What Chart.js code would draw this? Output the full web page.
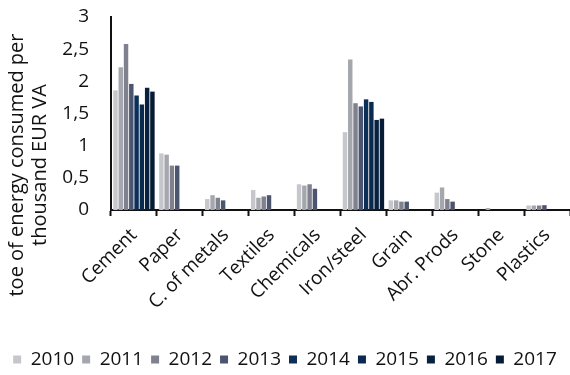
<!DOCTYPE html>
<html>
<head>
<meta charset="utf-8">
<script src="https://cdn.jsdelivr.net/npm/chart.js@4/dist/chart.umd.min.js"></script>
<style>
  html, body { margin: 0; padding: 0; background: #fff; }
  #wrap { width: 570px; height: 375px; }
</style>
</head>
<body>
<div id="wrap"><canvas id="energyChart"></canvas></div>
<script>
// categories and values
const sectors = ["Cement", "Paper", "C. of metals", "Textiles", "Chemicals", "Iron/steel", "Grain", "Abr. Prods", "Stone", "Plastics"];
const years = ["2010", "2011", "2012", "2013", "2014", "2015", "2016", "2017"];

const v2010 = [1.86, 0.88, 0.17, 0.31, 0.40, 1.21, 0.15, 0.27, null, 0.07];
const v2011 = [2.22, 0.86, 0.23, 0.19, 0.38, 2.34, 0.15, 0.35, 0.03, 0.07];
const v2012 = [2.58, 0.69, 0.19, 0.21, 0.40, 1.66, 0.13, 0.17, null, 0.07];
const v2013 = [1.96, 0.69, 0.15, 0.23, 0.33, 1.61, 0.13, 0.13, null, 0.075];
const v2014 = [1.78, null, null, null, null, 1.72, null, null, null, null];
const v2015 = [1.64, null, null, null, null, 1.68, null, null, null, null];
const v2016 = [1.90, null, null, null, null, 1.40, null, null, null, null];
const v2017 = [1.84, null, null, null, null, 1.42, null, null, null, null];

const yTicks = [0, 0.5, 1, 1.5, 2, 2.5, 3];
const yTitle = ["toe of energy consumed per", "thousand EUR VA"];

const colors = ["#c6c7cb", "#a5a7ae", "#7f828e", "#4b5570", "#0c2f58", "#0a294f", "#08213f", "#061b36"];
const series = [v2010, v2011, v2012, v2013, v2014, v2015, v2016, v2017];

const FONT = "'Open Sans', 'DejaVu Sans', sans-serif";

// y title drawn centred on the whole left side like the original
const yTitlePlugin = {
    id: "yTitle",
    afterDraw(chart) {
        const ctx = chart.ctx;
        ctx.save();
        ctx.fillStyle = "#111";
        ctx.font = "20px " + FONT;
        ctx.textAlign = "center";
        ctx.textBaseline = "middle";
        ctx.translate(0, 165);
        ctx.rotate(-Math.PI / 2);
        ctx.fillText(yTitle[0], 0, 17);
        ctx.fillText(yTitle[1], 0, 40);
        ctx.restore();
    }
};

let ctx = document.getElementById("energyChart").getContext("2d");

let chart = new Chart(ctx, {
    type: "bar",
    data: {
        labels: sectors,
        datasets: years.map((y, i) => ({
            label: y,
            data: series[i],
            backgroundColor: colors[i],
            borderWidth: 0,
            categoryPercentage: 0.92,
            barPercentage: 0.84
        }))
    },
    plugins: [yTitlePlugin],
    options: {
        responsive: true,
        maintainAspectRatio: false,
        animation: false,
        layout: { padding: { top: 17, left: 0, right: 0, bottom: -4 } },
        plugins: {
            legend: {
                position: "bottom",
                labels: {
                    font: { family: FONT, size: 19 },
                    color: "#111",
                    boxWidth: 8,
                    boxHeight: 8,
                    padding: 8
                }
            },
            tooltip: { enabled: false }
        },
        scales: {
            x: {
                grid: {
                    offset: true,
                    drawOnChartArea: false,
                    drawTicks: true,
                    tickLength: 6,
                    tickWidth: 2,
                    tickColor: "#111"
                },
                border: { display: true, color: "#111", width: 2 },
                ticks: {
                    font: { family: FONT, size: 19 },
                    color: "#111",
                    maxRotation: 45,
                    minRotation: 45,
                    autoSkip: false,
                    padding: 8
                },
                afterFit(scale) {
                    scale.height = 132;
                    scale.paddingLeft = 0;
                    scale.paddingRight = 0;
                }
            },
            y: {
                min: 0,
                max: 3,
                afterBuildTicks(scale) { scale.ticks = yTicks.map(v => ({ value: v })); },
                grid: { display: false, drawTicks: false },
                border: { display: true, color: "#111", width: 2 },
                ticks: {
                    font: { family: FONT, size: 19 },
                    color: "#111",
                    padding: 22,
                    callback: v => String(v).replace(".", ",")
                },
                afterFit(scale) {
                    scale.width = 111;
                    scale.paddingTop = 0;
                    scale.paddingBottom = 0;
                }
            }
        }
    }
});
</script>
</body>
</html>
